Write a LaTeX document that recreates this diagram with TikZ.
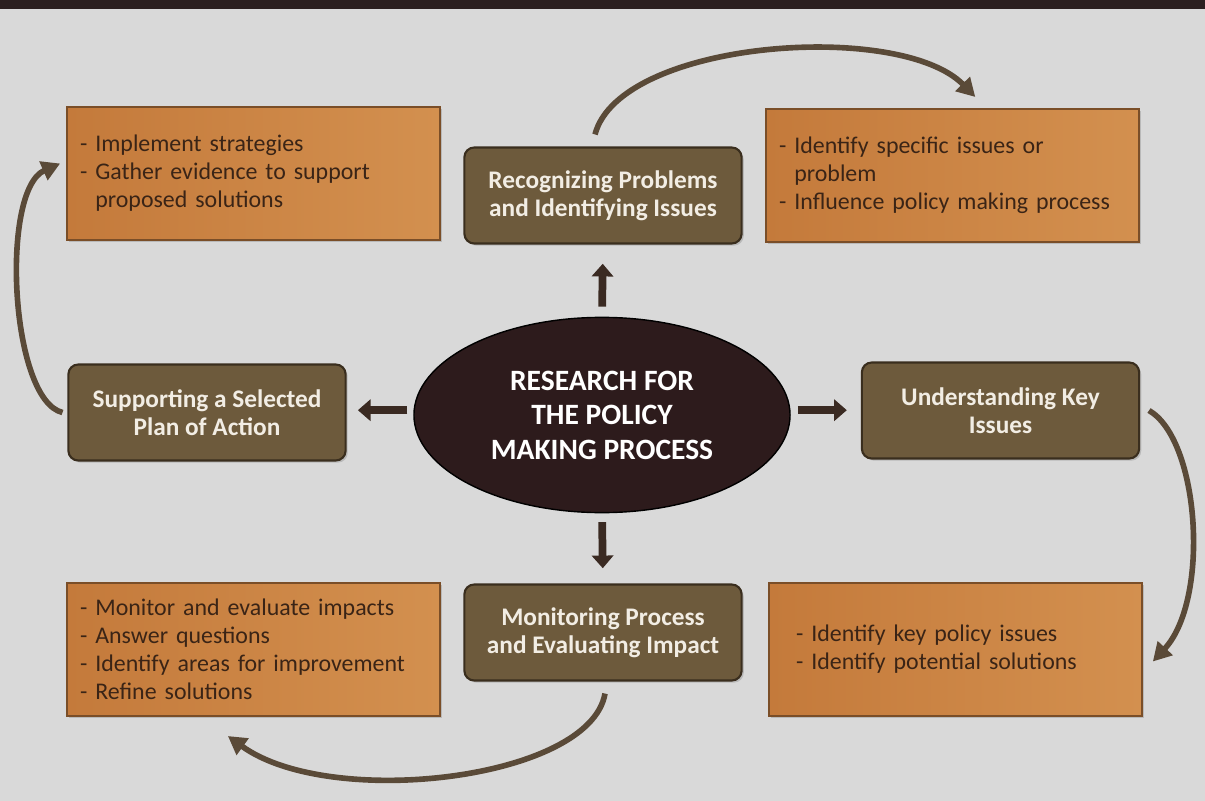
\documentclass[tikz,border=0pt]{standalone}
\usepackage{fontspec}
\setmainfont{Carlito}
\usetikzlibrary{arrows.meta,shapes.geometric,shadows}

\definecolor{bgcol}{HTML}{D9D9D9}
\definecolor{barcol}{HTML}{2B1F20}
\definecolor{orgA}{HTML}{C47A3B}
\definecolor{orgB}{HTML}{D3904F}
\definecolor{orgline}{HTML}{7A4E28}
\definecolor{orgtext}{HTML}{3A2416}
\definecolor{stepfill}{HTML}{6D5A3C}
\definecolor{stepline}{HTML}{3A2E1E}
\definecolor{stepext}{HTML}{F2EDE4}
\definecolor{hubfill}{HTML}{2D1B1C}
\definecolor{fatcol}{HTML}{3A2A22}
\definecolor{loopcol}{HTML}{5A4A38}

\begin{document}
\begin{tikzpicture}[
   x=0.025cm,y=-0.025cm,
   notebox/.style={rectangle,left color=orgA,right color=orgB,draw=orgline,line width=1pt,
     minimum width=9.33cm,minimum height=3.33cm,text width=8.67cm,align=left,
     text=orgtext,font=\fontsize{17}{20}\selectfont,
     drop shadow={shadow xshift=1.5pt,shadow yshift=-1.5pt,opacity=0.35}},
   stepbox/.style={rectangle,rounded corners=7pt,fill=stepfill,draw=stepline,line width=1.5pt,
     minimum width=6.93cm,minimum height=2.4cm,align=center,
     text=stepext,font=\bfseries\fontsize{18}{20}\selectfont,
     drop shadow={shadow xshift=1.5pt,shadow yshift=-1.5pt,opacity=0.35}},
   hub/.style={ellipse,fill=hubfill,draw=black,line width=1pt,minimum width=9.4cm,
     minimum height=4.88cm,align=center,text=white,font=\bfseries\fontsize{21}{24.5}\selectfont},
   fat/.style={draw=fatcol,line width=5.5pt,-{Triangle[length=9pt,width=15pt]}},
   loop/.style={draw=loopcol,line width=4pt,-{Triangle[length=13pt,width=14pt]}}
 ]
  \useasboundingbox (0,0) rectangle (1205,801);
  \fill[bgcol] (0,0) rectangle (1205,801);
  \fill[barcol] (0,0) rectangle (1205,9);

  \node[hub] (hub) at (602,415) {RESEARCH FOR\\THE POLICY\\MAKING PROCESS};

  \node[stepbox] (tc) at (603,195.5) {Recognizing Problems\\and Identifying Issues};
  \node[stepbox] (ml) at (207,412.5) {Supporting a Selected\\Plan of Action};
  \node[stepbox] (mr) at (1000.5,410.5) {Understanding Key\\Issues};
  \node[stepbox] (bc) at (603,632.5) {Monitoring Process\\and Evaluating Impact};

  \node[notebox] (tl) at (253.5,173.5) {- Implement strategies\\- Gather evidence to support\\\phantom{- }proposed solutions};
  \node[notebox] (tr) at (952.5,175.5) {- Identify specific issues or\\\phantom{- }problem\\- Influence policy making process};
  \node[notebox] (bl) at (253.5,649.5) {- Monitor and evaluate impacts\\- Answer questions\\- Identify areas for improvement\\- Refine solutions};
  \node[notebox,text width=7.97cm] (br) at (955.5,649.5) {- Identify key policy issues\\- Identify potential solutions};

  % short arrows out of the hub
  \draw[fat,shorten <=0.25cm,shorten >=0.48cm] (hub.north) -- (tc.south);
  \draw[fat,shorten <=0.15cm,shorten >=0.28cm] ([yshift=0.12cm]hub.west) -- ([yshift=0.12cm]hub.west -| ml.east);
  \draw[fat,shorten <=0.18cm,shorten >=0.35cm] ([yshift=0.12cm]hub.east) -- ([yshift=0.12cm]hub.east -| mr.west);
  \draw[fat,shorten <=0.22cm,shorten >=0.38cm] (hub.south) -- (bc.north);

  % cycle round the outside
  \draw[loop] ([xshift=-0.2cm,yshift=0.3cm]tc.north) .. controls (620,40) and (900,20) .. ([xshift=0.57cm,yshift=0.28cm]tr.north);
  \draw[loop] ([xshift=0.22cm]mr.east) .. controls (1200,440) and (1210,600) .. ([xshift=0.25cm,yshift=-0.3cm]br.east);
  \draw[loop] ([xshift=0.05cm,yshift=-0.3cm]bc.south) .. controls (590,780) and (330,810) .. ([xshift=-0.64cm,yshift=-0.48cm]bl.south);
  \draw[loop] ([xshift=-0.12cm]ml.west) .. controls (10,400) and (0,190) .. ([xshift=-0.15cm,yshift=0.25cm]tl.west);
\end{tikzpicture}
\end{document}
